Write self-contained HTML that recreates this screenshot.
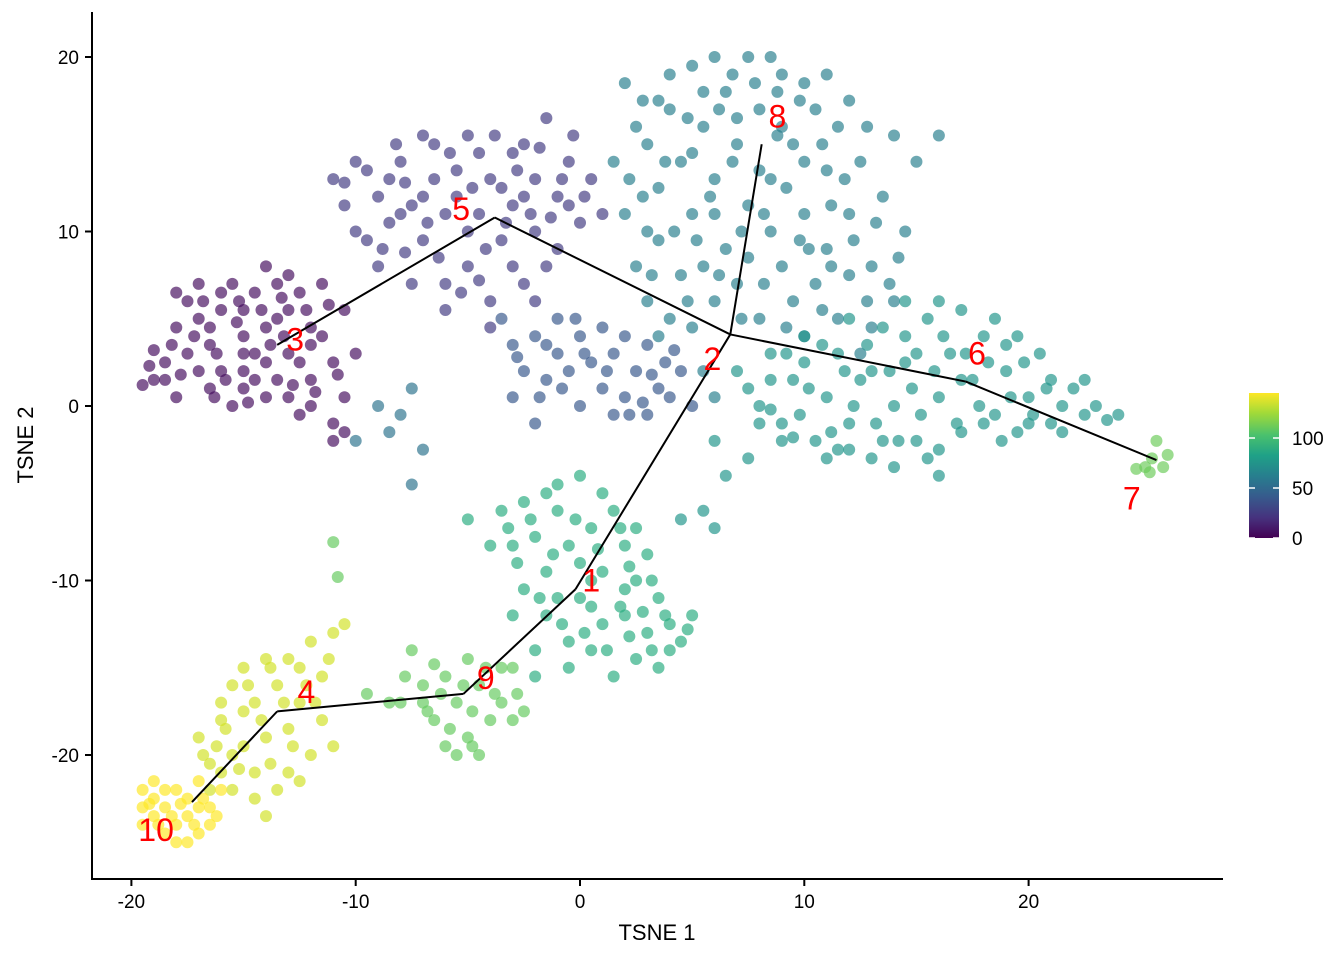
<!DOCTYPE html>
<html><head><meta charset="utf-8"><style>
html,body{margin:0;padding:0;background:#fff;}
svg{display:block;font-family:"Liberation Sans",Arial,sans-serif;}
</style></head><body>
<svg id="chart" width="1344" height="960" viewBox="0 0 1344 960" xmlns="http://www.w3.org/2000/svg">
<defs>
<linearGradient id="vgrad" x1="0" y1="1" x2="0" y2="0">
<stop offset="0" stop-color="#440154"/><stop offset="0.14" stop-color="#46327e"/><stop offset="0.29" stop-color="#365c8d"/><stop offset="0.43" stop-color="#277f8e"/><stop offset="0.57" stop-color="#1fa187"/><stop offset="0.71" stop-color="#4ac16d"/><stop offset="0.86" stop-color="#a0da39"/><stop offset="1" stop-color="#fde725"/>
</linearGradient>
</defs>
<g id="points"></g>
<g id="traj"></g>
<g id="labels"></g>
<line x1="92" y1="12" x2="92" y2="880" stroke="#000" stroke-width="2"/>
<line x1="91" y1="879" x2="1223" y2="879" stroke="#000" stroke-width="2"/>
<g id="axes"></g>
<text x="657" y="940" font-size="22" text-anchor="middle">TSNE 1</text>
<text transform="translate(33,445) rotate(-90)" font-size="22" text-anchor="middle">TSNE 2</text>
<g>
<rect x="1249" y="393" width="30" height="145" fill="url(#vgrad)"/>
<g id="cbticks"></g>
</g>
</svg>
<script>
const xTicks=[-20,-10,0,10,20];
const yTicks=[-20,-10,0,10,20];
const cbTicks=[0,50,100];
const clusterTimes=[5,25,40,55,62,75,112,90,110,135,147];
const clusterPoints=[
[[-19,3.2],[-18.5,1.5],[-18,4.5],[-17.5,6],[-17,2],[-16.5,3.5],[-16,5.5],[-15.5,7],[-15,1],[-15,4],[-14.5,6.5],[-14,2.5],[-14,8],[-13.5,5],[-13,0.5],[-13,3],[-12.5,6.5],[-12,1.5],[-12,4.5],[-11.5,7],[-11,2.5],[-11,-1],[-10.5,0.5],[-10,3],[-19.5,1.2],[-18,0.5],[-17,5],[-16,2],[-15.5,0],[-14.5,3],[-13.5,7],[-12.5,-0.5],[-11.5,4],[-10.5,5.5],[-17.5,3],[-16,6.5],[-14,4.5],[-13,5.5],[-12,0],[-11,-2],[-16.5,1],[-15,5.5],[-13.5,1.5],[-12,3.5],[-18.5,2.5],[-10.5,-1.5],[-17,7],[-15,3],[-14,0.5],[-12.5,2.5],[-18,6.5],[-16.5,4.5],[-15,2],[-13,7.5],[-19,1.5],[-14.5,1.5],
 [-19.2,2.3],[-18.2,3.5],[-17.2,4],[-16.2,3],[-15.2,6],[-14.2,5.5],[-13.2,4],[-12.2,5.5],[-11.2,5.8],[-16.8,6],[-15.8,1.5],[-14.8,0.2],[-17.8,1.8],[-13.8,3.5],[-12.8,1.2],[-11.8,0.8],[-10.8,1.8],[-15.3,4.8],[-16.3,0.5],[-13.3,6.2]],
[[-11,13],[-10,14],[-10,10],[-9,12],[-9,8],[-8.5,10.5],[-8,14],[-7.5,7],[-7,12],[-7,9.5],[-6.5,15],[-6,11],[-6,5.5],[-5.5,13.5],[-5,8],[-5,15.5],[-4.5,11],[-4,13],[-4,6],[-3.5,9.5],[-3,14.5],[-3,11.5],[-2.5,7],[-2,13],[-2,10],[-1.5,16.5],[-1.5,8],[-1,12],[-0.5,14],[0,10.5],[0.5,13],[-8,11],[-6.5,13],[-5,10],[-3.5,12.5],[-2.5,15],[-1,9],[-0.5,11.5],[-9.5,9.5],[-7.5,11.5],[-4.5,14.5],[-3,8],[-10.5,11.5],[1,11],[-6,7],[-4,4.5],[-2,6],[-7,15.5],[-5.5,12],[-8.5,13],[-2.5,12],
 [-10.5,12.8],[-9.5,13.5],[-8.8,9],[-7.8,12.8],[-6.8,10.5],[-5.8,14.5],[-4.8,12.5],[-3.8,15.5],[-2.8,13.5],[-1.8,14.8],[-0.8,13],[0.2,12],[-4.2,9],[-5.3,6.5],[-3.3,10.5],[-1.3,10.8],[-6.3,8.5],[-7.8,8.8],[-2.2,11],[-0.3,15.5],[-4.5,7.2],[-8.2,15]],
[[-3,3.5],[-2.5,2],[-2,4],[-1.5,1.5],[-1,3],[-0.5,2],[0,4],[0.5,2.5],[1,1],[1.5,3],[2,0.5],[2.5,2],[3,3.5],[3.5,1],[4,0.5],[-3,0.5],[0,0],[-2,-1],[1.5,-0.5],[3,-0.5],[4.5,2],[-1,5],[5,0],[-3.5,5],[-1.5,3.5],[2,4],
 [-2.8,2.8],[-1.8,0.5],[-0.8,1],[0.2,3],[1.2,2],[2.2,-0.5],[3.2,1.8],[4.2,3.2],[-0.2,5],[1,4.5],[2.8,0.2],[3.8,2.5]],
[[-8,-0.5],[-7.5,1],[-8.5,-1.5],[-9,0],[-7,-2.5],[-10,-2],[-7.5,-4.5]],
[[2,18.5],[3,15],[3.5,12.5],[4,17],[4.5,14],[5,19.5],[5,11],[5.5,16],[6,13],[6.5,18],[6.5,9],[7,15],[7.5,20],[7.5,11.5],[8,17],[8.5,13],[9,19],[9,8],[9.5,15],[10,11],[10.5,17],[11,13.5],[11,9],[11.5,16],[12,11],[12.5,14],[13,8],[13.5,12],[14,15.5],[14.5,10],[2,11],[2.5,8],[3,6],[3.5,9.5],[4,5],[4.5,7.5],[5,4.5],[5.5,8],[6,6],[7,7],[8,5],[8.5,10],[9.5,6],[10,4],[10.5,7],[11.5,5],[12,7.5],[13,4.5],[6,11],[8,13.5],[10,14],[12,17.5],[4,19],[6,20],[8.5,20],[10,18.5],[1.5,14],[2.5,16],[3,10],[15,14],[16,15.5],[14,6],[12.5,3],[5.5,2],[6,0.5],[7,16.5],[9,16],[5,14.5],[11,19],[3.5,17.5],
 [2.2,13],[2.8,17.5],[3.8,14],[4.8,16.5],[5.2,9.5],[5.8,12],[6.2,17],[6.8,14],[7.2,10],[7.8,18.5],[8.2,11],[8.8,15.5],[9.2,12.5],[9.8,17.5],[10.2,9],[10.8,15],[11.2,11.5],[11.8,13],[12.2,9.5],[12.8,16],[13.2,10.5],[13.8,7],[4.2,10],[3.2,7.5],[4.8,6],[6.2,7.5],[7.2,5],[8.2,7],[9.2,4.5],[10.8,5.5],[11.2,8],[12.8,6],[14.2,8.5],[6.8,19],[8.8,18],[5.5,18],[7.5,8.5],[9.8,9.5],[3.5,4],[2.8,12]],
[[7,2],[8,0],[8.5,3],[9,-1],[9.5,1.5],[10,4],[10.5,-2],[11,0.5],[11.5,3],[12,-1],[12.5,1.5],[13,-3],[13.5,4.5],[14,0],[14.5,2.5],[15,-2],[15.5,5],[16,0.5],[16.5,3],[17,-1.5],[17.5,1.5],[18,4],[18.5,-0.5],[19,2],[19.5,-1.5],[20,0.5],[20.5,3],[21,-1],[22,1],[23,0],[24,-0.5],[8,-1],[11,-3],[12,-2.5],[14,-3.5],[16,-2.5],[18,-1],[13,2],[15,3],[17,5.5],[19,3.5],[21,1.5],[16,-4],[10,2.5],[12,5],[14.5,6],[6,-2],[6.5,-4],[5.5,-6],[6,-7],[4.5,-6.5],[7.5,-3],[9,-2],[20,-1],[22.5,-0.5],
 [7.5,1],[8.5,1.5],[9.2,3],[9.8,-0.5],[10.2,1],[10.8,3.5],[11.2,-1.5],[11.8,2],[12.2,0],[12.8,3.5],[13.2,-1],[13.8,2],[14.2,-2],[14.8,1],[15.2,-0.5],[15.8,2],[16.2,4],[16.8,-1],[17.2,3],[17.8,0],[18.2,2.5],[18.8,-2],[19.2,0.5],[19.8,2.5],[20.2,-0.5],[20.8,1],[21.5,0],[22.5,1.5],[23.5,-0.8],[15.5,-3],[13.5,-2],[11.5,-2.5],[17,1.5],[18.5,5],[16,6],[19.5,4],[9.5,-1.8],[8.5,-0.2],[21.5,-1.5],[14.5,4]],
[[25.5,-3],[26,-3.5],[25.2,-3.5],[26.2,-2.8],[25.7,-2],[25.4,-3.8],[24.8,-3.6]],
[[-3.5,-6],[-3,-8],[-2.5,-5.5],[-2,-7.5],[-1.5,-9.5],[-1,-6],[-0.5,-8],[0,-4],[0,-11],[0.5,-7],[1,-9.5],[1.5,-6],[2,-12],[2,-8],[2.5,-10],[3,-13],[3.5,-11],[4,-12.5],[4.5,-13.5],[5,-12],[-2.5,-10.5],[-1.5,-12],[-0.5,-13.5],[0.5,-14],[1,-12.5],[1.5,-15.5],[2.5,-14.5],[-2,-14],[-3,-12],[1,-5],[-1,-4.5],[3,-8.5],[-4,-8],[0,-9],[2,-10.5],[3.5,-15],[-1,-11],[-5,-6.5],[4,-14],[2.5,-7],[-2,-15.5],[0.5,-11.5],
 [-3.2,-7],[-2.2,-6.5],[-1.2,-8.5],[-0.2,-6.5],[0.8,-8.2],[1.8,-7],[2.2,-9.2],[3.2,-10],[3.8,-12],[4.8,-12.8],[-1.8,-11],[-0.8,-12.5],[0.2,-13],[1.2,-14],[2.2,-13.2],[3.2,-14],[1.8,-11.5],[-2.8,-9],[0.5,-10],[-1.5,-5],[2.8,-11.8],[-0.5,-15]],
[[-8,-17],[-7.5,-14],[-7,-16],[-6.5,-18],[-6,-15.5],[-5.5,-17],[-5,-19],[-5,-14.5],[-4.5,-16],[-4,-18],[-3.5,-17],[-3,-15],[-2.5,-17.5],[-6,-19.5],[-5.5,-20],[-4.5,-20],[-7,-17],[-8.5,-17],[-9.5,-16.5],[-3.5,-15],[-11,-7.8],[-10.8,-9.8],
 [-7.8,-15.5],[-6.8,-17.5],[-6.2,-16.5],[-5.8,-18.5],[-4.8,-17.5],[-4.2,-15],[-3.8,-16.5],[-2.8,-16.5],[-5.2,-16],[-6.5,-14.8],[-4.8,-19.5],[-3,-18]],
[[-17,-19],[-16.5,-20.5],[-16,-18],[-15.5,-16],[-15,-19.5],[-15,-15],[-14.5,-21],[-14.5,-17],[-14,-14.5],[-14,-19],[-13.5,-16],[-13.5,-22],[-13,-18.5],[-13,-14.5],[-12.5,-17],[-12,-20],[-12,-13.5],[-11.5,-18],[-11,-19.5],[-11,-13],[-15.5,-22],[-14,-23.5],[-16,-21],[-12.5,-15],[-13,-21],[-15,-17.5],[-11.5,-15.5],[-10.5,-12.5],[-16,-17],
 [-16.8,-20],[-16.2,-19.5],[-15.8,-18.5],[-15.2,-20.8],[-14.8,-16],[-14.2,-18],[-13.8,-20.5],[-13.2,-17],[-12.8,-19.5],[-12.2,-16],[-11.8,-17],[-11.2,-14.5],[-14.5,-22.5],[-13.8,-15],[-12.5,-21.5],[-15.5,-20],[-16.5,-22]],
[[-19.5,-22],[-19,-23.5],[-19,-22.5],[-18.5,-24.5],[-18.5,-23],[-18,-22],[-18,-24],[-17.5,-23.5],[-17.5,-22.5],[-17,-24.5],[-17,-21.5],[-16.5,-23],[-16,-22],[-19.5,-24],[-18,-25],[-16.5,-24],[-19,-21.5],[-17,-23],
 [-19.2,-22.8],[-18.8,-24],[-18.2,-23.5],[-17.8,-22.8],[-17.2,-24],[-16.8,-22.5],[-18.5,-22],[-17.5,-25],[-16.2,-23.5],[-19.5,-23]]
];
const nodeNames=["1","2","3","4","5","6","7","8","9","10"];
const nodeX=[-0.2,6.7,-13.5,-13.5,-3.8,17.2,25.7,8.1,-5.2,-17.3];
const nodeY=[-10.5,4.1,3.5,-17.5,10.8,1.4,-3.1,15,-16.5,-22.7];
const edges=[[2,4],[4,1],[1,7],[1,5],[5,6],[1,0],[0,8],[8,3],[3,9]];
const labelOffX=[0.7,-0.8,0.8,1.3,-1.5,0.5,-1.1,0.7,1,-1.6];
const labelOffY=[0.5,-1.4,0.3,1.1,0.5,1.6,-2.2,1.6,0.9,-1.6];

const sx=v=>580+v*22.43, sy=v=>406-v*17.45;
const stops=["#440154","#482475","#414487","#355f8d","#2a788e","#21918c","#22a884","#44bf70","#7ad151","#bddf26","#fde725"];
function hex(h){return [1,3,5].map(i=>parseInt(h.substr(i,2),16));}
function viridis(t){t=Math.max(0,Math.min(1,t));const p=t*(stops.length-1),i=Math.min(Math.floor(p),stops.length-2),f=p-i;const a=hex(stops[i]),b=hex(stops[i+1]);return `rgb(${a.map((v,k)=>Math.round(v+(b[k]-v)*f)).join(",")})`;}
const NS="http://www.w3.org/2000/svg";
function mk(tag,attrs,parent){const e=document.createElementNS(NS,tag);for(const k in attrs)e.setAttribute(k,attrs[k]);parent.appendChild(e);return e;}
const pg=document.getElementById("points");
clusterPoints.forEach((pts,ci)=>{pts.forEach(p=>{
 const c=mk("circle",{cx:sx(p[0]),cy:sy(p[1]),r:6,fill:viridis(clusterTimes[ci]/145),"fill-opacity":0.68},pg);
 
 
});});
const tg=document.getElementById("traj");
edges.forEach(e=>{
 const l=mk("line",{x1:sx(nodeX[e[0]]),y1:sy(nodeY[e[0]]),x2:sx(nodeX[e[1]]),y2:sy(nodeY[e[1]]),stroke:"#000","stroke-width":2},tg);
 
 
});
const lg=document.getElementById("labels");
nodeNames.forEach((n,i)=>{
 const t=mk("text",{x:sx(nodeX[i]+labelOffX[i]),y:sy(nodeY[i]+labelOffY[i])+11,"font-size":32,fill:"#ff0000","text-anchor":"middle"},lg);
 t.textContent=n;
 
 
});
const ax=document.getElementById("axes");
xTicks.forEach(v=>{
 const l=mk("line",{x1:sx(v),y1:880,x2:sx(v),y2:886,stroke:"#000","stroke-width":2},ax);
 
 
 const t=mk("text",{x:sx(v),y:908,"font-size":19,"text-anchor":"middle",fill:"#000"},ax);
 t.textContent=v;
 
 
});
yTicks.forEach(v=>{
 const l=mk("line",{x1:85,y1:sy(v),x2:92,y2:sy(v),stroke:"#000","stroke-width":2},ax);
 
 
 const t=mk("text",{x:79,y:sy(v)+7,"font-size":19,"text-anchor":"end",fill:"#000"},ax);
 t.textContent=v;
 
 
});
const cb=document.getElementById("cbticks");
cbTicks.forEach(v=>{
 const y=538-v;
 [[1249,1255],[1273,1279]].forEach(s=>{const l=mk("line",{x1:s[0],y1:y,x2:s[1],y2:y,stroke:"#fff","stroke-width":1.5},cb);
 
 });
 const t=mk("text",{x:1292,y:y+7,"font-size":19,fill:"#000"},cb);
 t.textContent=v;
 
 
});
</script>
</body></html>
